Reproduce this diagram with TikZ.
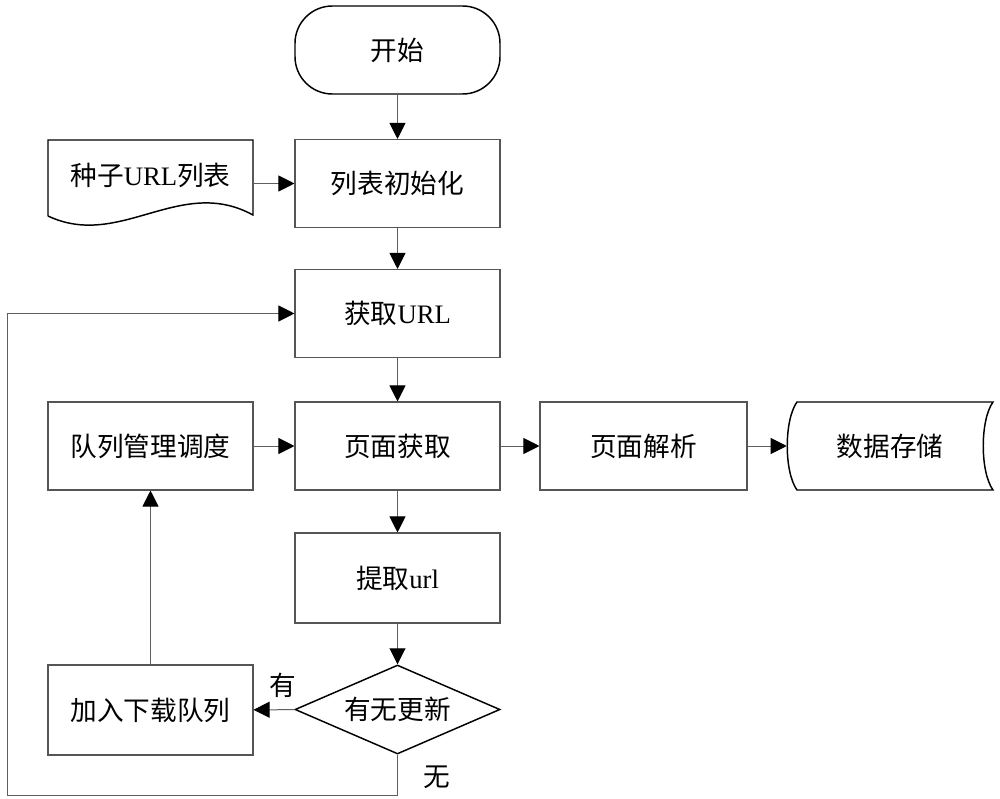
\documentclass[tikz,border=0pt]{standalone}
\usepackage{fontspec}
\setmainfont{Liberation Serif}
\newfontfamily\cjk{Noto Sans CJK SC}
\usetikzlibrary{arrows.meta,shapes.geometric}
\newcommand{\zhs}[1]{{\cjk #1}}
\definecolor{boxgray}{RGB}{85,85,85}
\definecolor{linegray}{RGB}{95,95,95}
\begin{document}
\begin{tikzpicture}[x=0.75pt,y=-0.75pt,
  txt/.style={font=\fontsize{20}{24}\selectfont},
  box/.style={txt,draw=boxgray,line width=0.8pt,minimum width=153.75pt,minimum height=66pt,inner sep=0pt},
  term/.style={txt,draw=black,line width=1.1pt,rounded corners=28pt,minimum width=153.75pt,minimum height=66pt,inner sep=0pt},
  decision/.style={txt,draw=black,line width=1.1pt,shape=diamond,aspect=2.3,minimum width=153.75pt,minimum height=66.75pt,inner sep=0pt},
  plain/.style={txt,inner sep=0pt},
  outline/.style={draw=black,line width=1.1pt},
  arr/.style={draw=linegray,line width=0.75pt,-{Triangle[length=12pt,width=12pt,color=black]}},
  lbl/.style={txt,inner sep=0pt}]
\useasboundingbox (0,0) rectangle (1000,799);

% nodes
\node[term] (start) at (397.5,50) {\zhs{开始}};
\node[plain,minimum width=153.75pt,minimum height=52.5pt] (seed) at (150.5,175) {\zhs{种子}URL\zhs{列表}};
\draw[outline] (48,216) -- (48,140) -- (253,140) -- (253,215)
  .. controls (180,175) and (120,250) .. (48,216);
\node[box] (init) at (397.5,183.5) {\zhs{列表初始化}};
\node[box] (fetch) at (397.5,313.5) {\zhs{获取}URL};
\node[box] (queue) at (150.5,446) {\zhs{队列管理调度}};
\node[box] (page) at (397.5,446) {\zhs{页面获取}};
\node[box,minimum width=155.25pt] (parse) at (643.5,446) {\zhs{页面解析}};
\node[plain,minimum width=154.5pt,minimum height=66pt] (store) at (890,446) {\zhs{数据存储}};
\draw[outline] (797,402) -- (993,402) .. controls (980,420) and (980,472) .. (993,490)
  -- (797,490) .. controls (784,472) and (784,420) .. (797,402) -- cycle;
\node[box,minimum height=67.5pt] (extract) at (397.5,578) {\zhs{提取}url};
\node[decision] (check) at (397.5,709.5) {\zhs{有无更新}};
\node[box,minimum height=67.5pt] (add) at (150.5,710) {\zhs{加入下载队列}};
\node[lbl] (yes) at (283,685) {\zhs{有}};
\node[lbl] (no) at (437,777) {\zhs{无}};
\coordinate (lb) at (7,795);

% connectors
\draw[arr] (start) -- (init);
\draw[arr] (seed.east |- init.west) -- (init.west);
\draw[arr] (init) -- (fetch);
\draw[arr] (fetch) -- (page);
\draw[arr] (queue) -- (page);
\draw[arr] (page) -- (parse);
\draw[arr] (parse) -- (store.west);
\draw[arr] (page) -- (extract);
\draw[arr] (extract) -- (check);
\draw[arr] (check) -- (add);
\draw[arr] (add) -- (queue);
\draw[arr] (check.south) |- (lb) |- (fetch.west);
\end{tikzpicture}
\end{document}
